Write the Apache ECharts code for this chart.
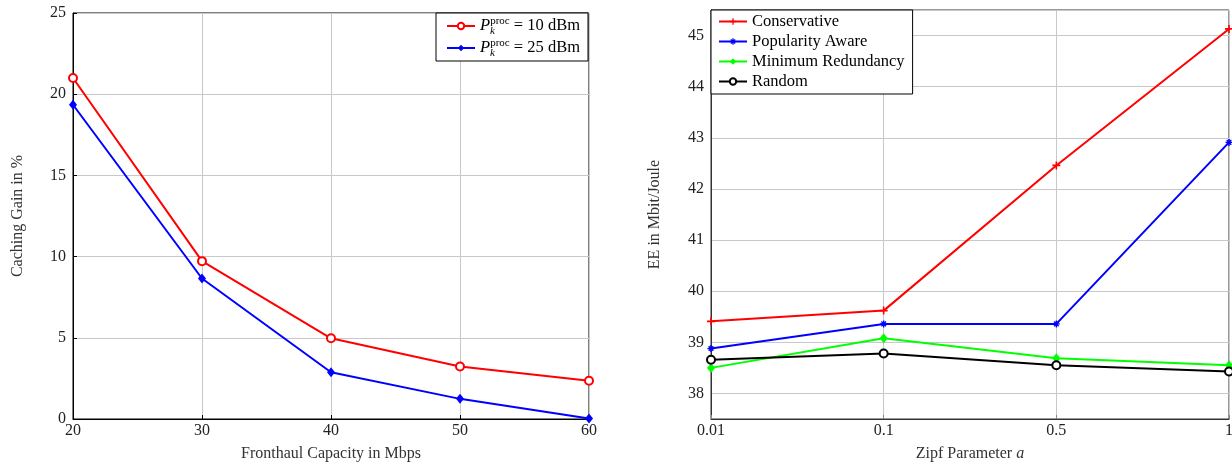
<!DOCTYPE html>
<html>
<head>
  <meta charset="utf-8">
  <title>Caching gain / EE</title>
  <style>
    html, body { margin: 0; padding: 0; background: #fff; }
    #main { width: 1232px; height: 463px; }
  </style>
</head>
<body>
<div id="main"></div>
<script src="https://cdn.jsdelivr.net/npm/echarts@6/dist/echarts.min.js"></script>
<script>
  // 左图数据: 前传容量 vs 缓存增益
  var capacity = [20, 30, 40, 50, 60];
  var gain10 = [21.0, 9.72, 4.97, 3.23, 2.35];
  var gain25 = [19.35, 8.65, 2.88, 1.24, 0.03];

  // 右图数据: Zipf 参数 vs EE
  var zipf = ['0.01', '0.1', '0.5', '1'];
  var conservative = [39.41, 39.62, 42.46, 45.13];
  var popularity = [38.88, 39.36, 39.36, 42.91];
  var minRedundancy = [38.50, 39.08, 38.69, 38.55];
  var randomEE = [38.66, 38.78, 38.55, 38.43];

  var FONT = 'Liberation Serif';
  var plusPath = 'path://M4,0H6V4H10V6H6V10H4V6H0V4H4Z';
  var starPath = 'path://M4,0H6V10H4Z M0,4H10V6H0Z M1,2.4L2.4,1L9,7.6L7.6,9Z M7.6,1L9,2.4L2.4,9L1,7.6Z';

  var legendNames = {
    p10: '{i|P}{b|k}{t|proc}{n| = 10 dBm}',
    p25: '{i|P}{b|k}{t|proc}{n| = 25 dBm}'
  };

  var richMath = {
    i: { fontFamily: FONT, fontStyle: 'italic', fontSize: 16.5, lineHeight: 22, verticalAlign: 'middle' },
    b: { fontFamily: FONT, fontStyle: 'italic', fontSize: 11, lineHeight: 22, verticalAlign: 'bottom', width: 0.1 },
    t: { fontFamily: FONT, fontSize: 11, lineHeight: 22, verticalAlign: 'top', padding: [1, 0, 0, 0] },
    n: { fontFamily: FONT, fontSize: 16.5, lineHeight: 22, verticalAlign: 'middle' }
  };

  var gridLine = { show: true, lineStyle: { color: '#c8c8c8', width: 1 } };
  var xLabel = { color: '#222', fontFamily: FONT, fontSize: 16, margin: 4 };
  var yLabel = { color: '#222', fontFamily: FONT, fontSize: 16, margin: 7 };
  var nameStyle = { color: '#333', fontFamily: FONT, fontSize: 16 };

  var myChart = echarts.init(document.getElementById('main'));
  myChart.setOption({
    animation: false,
    backgroundColor: '#fff',
    grid: [
      { left: 73, right: 643, top: 13, bottom: 44, outerBoundsMode: 'none', containLabel: false,
        show: true, borderColor: '#000', borderWidth: 1, backgroundColor: 'transparent' },
      { left: 711, right: 3, top: 10, bottom: 44, outerBoundsMode: 'none', containLabel: false,
        show: true, borderColor: '#333', borderWidth: 1, backgroundColor: 'transparent' }
    ],
    legend: [
      {
        data: ['p10', 'p25'],
        orient: 'vertical',
        right: 644, top: 13,
        backgroundColor: '#fff',
        borderColor: '#000', borderWidth: 1,
        padding: [2, 8, 2, 10],
        itemGap: 0,
        itemWidth: 28, itemHeight: 8,
        formatter: function (name) { return legendNames[name]; },
        textStyle: { color: '#000', fontFamily: FONT, fontSize: 16.5, rich: richMath }
      },
      {
        data: ['Conservative', 'Popularity Aware', 'Minimum Redundancy', 'Random'],
        orient: 'vertical',
        left: 711, top: 10,
        backgroundColor: '#fff',
        borderColor: '#000', borderWidth: 1,
        padding: [3, 8, 4, 7],
        itemGap: 3,
        itemWidth: 28, itemHeight: 8,
        textStyle: { color: '#000', fontFamily: FONT, fontSize: 16.5, lineHeight: 17 }
      }
    ],
    xAxis: [
      {
        gridIndex: 0, type: 'value', min: 20, max: 60, interval: 10,
        name: 'Fronthaul Capacity in Mbps', nameLocation: 'middle', nameGap: 27,
        nameTextStyle: nameStyle,
        axisLine: { lineStyle: { color: '#000' } },
        axisTick: { inside: true, length: 4, lineStyle: { color: '#000' } },
        axisLabel: xLabel,
        splitLine: gridLine
      },
      {
        gridIndex: 1, type: 'category', data: zipf, boundaryGap: false,
        name: 'Zipf Parameter {a|a}', nameLocation: 'middle', nameGap: 27,
        nameTextStyle: Object.assign({}, nameStyle, {
          rich: { a: { fontFamily: FONT, fontStyle: 'italic', fontSize: 16, color: '#333' } }
        }),
        axisLine: { lineStyle: { color: '#333' } },
        axisTick: { inside: true, length: 4, alignWithLabel: true, lineStyle: { color: '#888' } },
        axisLabel: xLabel,
        splitLine: gridLine
      }
    ],
    yAxis: [
      {
        gridIndex: 0, type: 'value', min: 0, max: 25, interval: 5,
        name: 'Caching Gain in %', nameLocation: 'middle', nameGap: 47,
        nameTextStyle: nameStyle,
        axisLine: { show: true, lineStyle: { color: '#000' } },
        axisTick: { inside: true, length: 4, lineStyle: { color: '#000' } },
        axisLabel: yLabel,
        splitLine: gridLine
      },
      {
        gridIndex: 1, type: 'value', min: 37.5, max: 45.5, splitNumber: 8,
        name: 'EE in Mbit/Joule', nameLocation: 'middle', nameGap: 48,
        nameTextStyle: nameStyle,
        axisLine: { show: true, lineStyle: { color: '#333' } },
        axisTick: { inside: true, length: 4, lineStyle: { color: '#888' } },
        axisLabel: Object.assign({}, yLabel, {
          showMinLabel: false, showMaxLabel: false,
          formatter: function (v) { return Number.isInteger(v) ? String(v) : ''; }
        }),
        splitLine: gridLine
      }
    ],
    series: [
      {
        name: 'p10', type: 'line', xAxisIndex: 0, yAxisIndex: 0,
        data: capacity.map(function (c, i) { return [c, gain10[i]]; }),
        symbol: 'emptyCircle', symbolSize: 8,
        lineStyle: { color: '#ff0000', width: 2 },
        itemStyle: { color: '#ff0000', borderWidth: 1.6 }
      },
      {
        name: 'p25', type: 'line', xAxisIndex: 0, yAxisIndex: 0,
        data: capacity.map(function (c, i) { return [c, gain25[i]]; }),
        symbol: 'diamond', symbolSize: [8, 10],
        lineStyle: { color: '#0000ff', width: 2 },
        itemStyle: { color: '#0000ff' }
      },
      {
        name: 'Conservative', type: 'line', xAxisIndex: 1, yAxisIndex: 1,
        data: conservative,
        symbol: plusPath, symbolSize: 8,
        lineStyle: { color: '#ff0000', width: 2 },
        itemStyle: { color: '#ff0000' }
      },
      {
        name: 'Popularity Aware', type: 'line', xAxisIndex: 1, yAxisIndex: 1,
        data: popularity,
        symbol: starPath, symbolSize: 7,
        lineStyle: { color: '#0000ff', width: 2 },
        itemStyle: { color: '#0000ff' }
      },
      {
        name: 'Minimum Redundancy', type: 'line', xAxisIndex: 1, yAxisIndex: 1,
        data: minRedundancy,
        symbol: 'diamond', symbolSize: [8, 10],
        lineStyle: { color: '#00ff00', width: 2 },
        itemStyle: { color: '#00ff00' }
      },
      {
        name: 'Random', type: 'line', xAxisIndex: 1, yAxisIndex: 1,
        data: randomEE,
        symbol: 'emptyCircle', symbolSize: 8,
        lineStyle: { color: '#000', width: 2 },
        itemStyle: { color: '#000', borderWidth: 1.6 }
      }
    ]
  });
</script>
</body>
</html>
